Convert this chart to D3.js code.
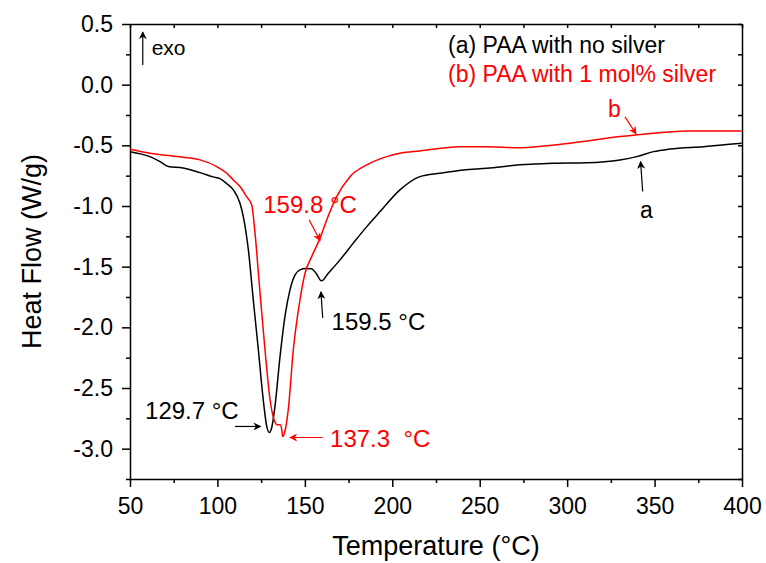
<!DOCTYPE html>
<html>
<head>
<meta charset="utf-8">
<script src="https://cdn.jsdelivr.net/npm/d3@7"></script>
<style>
    body { margin: 0; background: #fff; }
    svg { display: block; font-family: "Liberation Sans", Arial, sans-serif; }
    .axis path, .axis line { stroke: #000; stroke-width: 1.5; }
    .axis text { font-size: 23px; fill: #000; }
</style>
</head>
<body>
<svg id="chart"></svg>
<script>
// (a) PAA with no silver  -- [temperature °C, heat flow W/g]
const seriesA = [
    [50, -0.552], [61.4, -0.593], [67.2, -0.634], [71.9, -0.675], [80.3, -0.686],
    [90.0, -0.725], [97.5, -0.760], [101.5, -0.775], [105.3, -0.815], [109.1, -0.867],
    [112.9, -0.977], [114.8, -1.087], [117.7, -1.362], [120.5, -1.773], [123.4, -2.185],
    [126.2, -2.597], [128.2, -2.817], [129.7, -2.867], [131.0, -2.830], [132.9, -2.652],
    [135.8, -2.241], [138.6, -1.911], [141.5, -1.691], [144.4, -1.568], [147.2, -1.526],
    [150.5, -1.515], [153.9, -1.518], [156.4, -1.554], [159.5, -1.617], [163.4, -1.554],
    [170.1, -1.444], [177.7, -1.306], [185.4, -1.170], [193.0, -1.046], [204.4, -0.867],
    [215.8, -0.758], [227.3, -0.730], [240.6, -0.703], [254.0, -0.689], [273.0, -0.661],
    [292.1, -0.647], [311.2, -0.643], [330.2, -0.620], [339.8, -0.593], [349.3, -0.552],
    [358.8, -0.530], [377.9, -0.511], [399.8, -0.483]
];

// (b) PAA with 1 mol% silver
const seriesB = [
    [50, -0.532], [61.4, -0.565], [80.3, -0.598], [90.0, -0.620], [99.6, -0.675],
    [105.3, -0.730], [109.1, -0.785], [112.9, -0.840], [116.7, -0.923], [119.6, -0.991],
    [121.5, -1.224], [123.9, -1.636], [127.2, -2.185], [130.1, -2.597], [132.4, -2.762],
    [134.2, -2.803], [135.8, -2.803], [136.8, -2.844], [137.3, -2.900], [138.8, -2.844],
    [140.5, -2.680], [143.4, -2.185], [147.2, -1.773], [150.1, -1.554], [153.9, -1.417],
    [158.7, -1.265], [162.5, -1.115], [168.2, -0.923], [175.8, -0.758], [185.4, -0.661],
    [196.8, -0.593], [204.4, -0.565], [215.8, -0.546], [238.7, -0.511], [255.0, -0.512],
    [273.0, -0.519], [301.6, -0.483], [330.2, -0.428], [349.3, -0.400], [368.4, -0.381],
    [399.8, -0.381]
];

const xTicks = [50, 100, 150, 200, 250, 300, 350, 400];
const yTicks = [0.5, 0.0, -0.5, -1.0, -1.5, -2.0, -2.5, -3.0];

const legendLabels = ["(a) PAA with no silver", "(b) PAA with 1 mol% silver"];

// annotations: text anchor + arrow (from -> to), all in data units
const notes = [
    { text: "exo", x: 62.4, y: 0.245, size: 21, color: "#000", from: [57.3, 0.162], to: [57.3, 0.434] },
    { text: "b", x: 323.4, y: -0.270, size: 23, color: "red", from: [333.1, -0.266], to: [339.4, -0.406] },
    { text: "a", x: 341.7, y: -1.098, size: 23, color: "#000", from: [343.2, -0.881], to: [342.0, -0.634] },
    { text: "159.8 °C", x: 126.2, y: -1.057, size: 24, color: "red", from: [152.4, -1.114], to: [158.7, -1.285] },
    { text: "159.5 °C", x: 165.3, y: -2.021, size: 24, color: "#000", from: [160.2, -1.922], to: [159.2, -1.708] },
    { text: "129.7 °C", x: 58.6, y: -2.754, size: 24, color: "#000", from: [110.0, -2.817], to: [124.7, -2.817] },
    { text: "137.3  °C", x: 164.4, y: -2.985, size: 24, color: "red", from: [160.2, -2.908], to: [141.5, -2.908] }
];

const W = 766, H = 563;
const margin = { top: 24, right: 24, bottom: 84, left: 130 },
    width = W - margin.left - margin.right,
    height = H - margin.top - margin.bottom;

const svg = d3.select("#chart").attr("width", W).attr("height", H);

const defs = svg.append("defs");
["#000", "red"].forEach((c, i) => {
    defs.append("marker")
        .attr("id", "arrow" + i)
        .attr("viewBox", "0 0 10 10")
        .attr("refX", 9).attr("refY", 5)
        .attr("markerWidth", 11).attr("markerHeight", 8)
        .attr("markerUnits", "userSpaceOnUse")
        .attr("orient", "auto")
        .append("path")
        .attr("d", "M0,0 L10,5 L0,10 L3,5 Z")
        .attr("fill", c);
});

const g = svg.append("g").attr("transform", `translate(${margin.left},${margin.top})`);

const x = d3.scaleLinear().domain([50, 400]).range([0, width]);
const y = d3.scaleLinear().domain([-3.25, 0.5]).range([height, 0]);

const xMinor = d3.range(75, 400, 50);
const yMinor = d3.range(-3.25, 0.5, 0.5);
const fmtY = d => d3.format(".1f")(d).replace("\u2212", "-");

// bottom axis
g.append("g").attr("class", "axis")
    .attr("transform", `translate(0,${height})`)
    .call(d3.axisBottom(x).tickValues(xTicks).tickSize(8).tickSizeOuter(0).tickPadding(11));
g.append("g").attr("class", "axis")
    .attr("transform", `translate(0,${height})`)
    .call(d3.axisBottom(x).tickValues(xMinor).tickSize(4).tickSizeOuter(0).tickFormat(""))
    .select(".domain").remove();

// left axis
g.append("g").attr("class", "axis")
    .call(d3.axisLeft(y).tickValues(yTicks).tickSize(8).tickSizeOuter(0).tickPadding(9).tickFormat(fmtY));
g.append("g").attr("class", "axis")
    .call(d3.axisLeft(y).tickValues(yMinor).tickSize(4).tickSizeOuter(0).tickFormat(""))
    .select(".domain").remove();

// top and right: inward ticks, no labels
g.append("g").attr("class", "axis")
    .call(d3.axisTop(x).tickValues(xTicks.concat(xMinor)).tickSize(-4).tickSizeOuter(0).tickFormat(""));
g.append("g").attr("class", "axis")
    .attr("transform", `translate(${width},0)`)
    .call(d3.axisRight(y).tickValues(yTicks.concat(yMinor)).tickSize(-4).tickSizeOuter(0).tickFormat(""));

// curves
const line = d3.line()
    .x(d => x(d[0]))
    .y(d => y(d[1]))
    .curve(d3.curveMonotoneX);

g.append("path").datum(seriesA)
    .attr("fill", "none").attr("stroke", "#000").attr("stroke-width", 1.5)
    .attr("d", line);
g.append("path").datum(seriesB)
    .attr("fill", "none").attr("stroke", "red").attr("stroke-width", 1.5)
    .attr("d", line);

// legend text
g.selectAll(".legend")
    .data(legendLabels)
    .enter()
    .append("text")
    .attr("x", x(231.9))
    .attr("y", (d, i) => y(i === 0 ? 0.261 : 0.022))
    .attr("font-size", 23)
    .attr("fill", (d, i) => i === 0 ? "#000" : "red")
    .text(d => d);

// annotations
notes.forEach(n => {
    const idx = n.color === "red" ? 1 : 0;
    g.append("line")
        .attr("x1", x(n.from[0])).attr("y1", y(n.from[1]))
        .attr("x2", x(n.to[0])).attr("y2", y(n.to[1]))
        .attr("stroke", n.color).attr("stroke-width", 1.2)
        .attr("marker-end", `url(#arrow${idx})`);
    g.append("text")
        .attr("x", x(n.x)).attr("y", y(n.y))
        .attr("font-size", n.size)
        .attr("fill", n.color)
        .style("white-space", "pre")
        .text(n.text);
});

// axis titles
svg.append("text")
    .attr("x", margin.left + width / 2).attr("y", 555)
    .attr("text-anchor", "middle").attr("font-size", 27)
    .text("Temperature (°C)");
svg.append("text")
    .attr("transform", `translate(41,${margin.top + height / 2}) rotate(-90)`)
    .attr("text-anchor", "middle").attr("font-size", 27)
    .text("Heat Flow (W/g)");
</script>
</body>
</html>
